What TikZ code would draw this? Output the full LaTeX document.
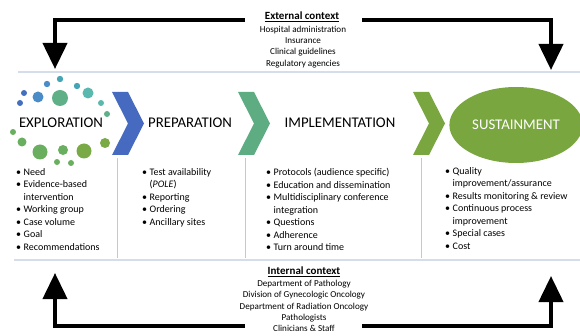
\documentclass[tikz,border=0pt]{standalone}
\usepackage{fontspec}
\setmainfont{Carlito}
\usetikzlibrary{positioning,arrows.meta,shapes.geometric}

\definecolor{chevblue}{RGB}{70,106,192}
\definecolor{chevteal}{RGB}{93,172,130}
\definecolor{chevolive}{RGB}{122,166,64}
\definecolor{sepline}{RGB}{214,221,234}
\definecolor{colline}{RGB}{200,200,200}
\definecolor{dotblue}{RGB}{68,110,190}
\definecolor{dotsky}{RGB}{74,140,200}
\definecolor{dotteal}{RGB}{70,165,180}
\definecolor{dotaqua}{RGB}{90,185,175}
\definecolor{dotsea}{RGB}{95,175,135}
\definecolor{dotgreen}{RGB}{105,175,95}
\definecolor{dotolive}{RGB}{122,170,70}

% bullet line and its wrapped continuation
\newcommand{\bitem}[1]{\makebox[7.5pt][l]{\textbullet}#1}
\newcommand{\bcont}[1]{\hspace*{7.5pt}#1}

\begin{document}
\begin{tikzpicture}[
            x=1pt, y=-1pt,
            stage/.style={font=\fontsize{14.8}{16}\selectfont},
            ctxhead/.style={font=\fontsize{11}{12}\selectfont\bfseries, inner sep=1pt},
            ctxlist/.style={align=center, font=\fontsize{9.1}{11.2}\selectfont, inner sep=0pt},
            bullets/.style={align=left, anchor=north west, inner sep=0pt, font=\fontsize{10}{12.5}\selectfont},
            ctxarrow/.style={line width=4pt, -{Triangle[width=24pt,length=26pt]}}
        ]
        \useasboundingbox (0,0) rectangle (580,336);

        % separators
        \draw[sepline, line width=1.2pt] (18,72) -- (580,72);
        \draw[sepline, line width=1.2pt] (14,260) -- (580,260);
        \foreach \lx in {117,245,421}
            \draw[colline, line width=0.8pt] (\lx,158) -- (\lx,258);

        % dots round exploration
        \foreach \dx/\dy/\dr/\dc in {60/79/3.2/dotteal, 47/84/3.2/dotsky, 77/86/3.2/dotteal,
                24/93/3/dotblue, 38/97/5.5/dotsky, 60/98/8/dotsea, 88/93/5.5/dotaqua,
                20/103/3/dotblue, 101/103/3/dotaqua, 107/114/3/dotsea, 13/132/3/dotgreen,
                22/142/4.5/dotgreen, 105/143/5/dotolive, 40/152/7.5/dotgreen,
                63/150/5/dotgreen, 84/151/7.5/dotolive, 57/162/3/dotgreen, 71/163/3/dotgreen}
            \fill[\dc] (\dx,\dy) circle (\dr pt);

        % chevrons
        \foreach \cx/\cc in {112/chevblue, 238/chevteal, 413/chevolive}
            \fill[\cc] (\cx,92) -- ++(16,0) -- ++(16,31.5) -- ++(-16,31.5) -- ++(-16,0) -- ++(16,-31.5) -- cycle;

        % stages
        \node[stage] (explo) at (61,123) {EXPLORATION};
        \node[stage] (prep) at (190,123) {PREPARATION};
        \node[stage] (impl) at (340,123) {IMPLEMENTATION};
        \node[stage, ellipse, fill=chevolive, text=white, minimum width=124pt, minimum height=76pt] (sus) at (516,125) {SUSTAINMENT};

        % bullet lists
        \node[bullets] (exploL) at (16,168) {\bitem{Need}\\\bitem{Evidence-based}\\\bcont{intervention}\\\bitem{Working group}\\\bitem{Case volume}\\\bitem{Goal}\\\bitem{Recommendations}};
        \node[bullets] (prepL) at (142,168) {\bitem{Test availability}\\\bcont{(\textit{POLE})}\\\bitem{Reporting}\\\bitem{Ordering}\\\bitem{Ancillary sites}};
        \node[bullets] (implL) at (266,168) {\bitem{Protocols (audience specific)}\\\bitem{Education and dissemination}\\\bitem{Multidisciplinary conference}\\\bcont{integration}\\\bitem{Questions}\\\bitem{Adherence}\\\bitem{Turn around time}};
        \node[bullets] (susL) at (445,167) {\bitem{Quality}\\\bcont{improvement/assurance}\\\bitem{Results monitoring \& review}\\\bitem{Continuous process}\\\bcont{improvement}\\\bitem{Special cases}\\\bitem{Cost}};

        % context
        \node[ctxhead] (extT) at (302,17) {\underline{External context}};
        \node[ctxlist] (extL) at (303,47) {Hospital administration\\Insurance\\Clinical guidelines\\Regulatory agencies};
        \node[ctxhead] (intT) at (304,272) {\underline{Internal context}};
        \node[ctxlist] (intL) at (304,306) {Department of Pathology\\Division of Gynecologic Oncology\\Department of Radiation Oncology\\Pathologists\\Clinicians \& Staff};

        \coordinate (extA) at (245,20);
        \coordinate (extB) at (362,20);
        \coordinate (expIn) at (55,69);
        \coordinate (susIn) at (551,70);
        \coordinate (intA) at (245,326);
        \coordinate (intB) at (362,326);
        \coordinate (expOut) at (55,273);
        \coordinate (susOut) at (551,276);

        \draw[ctxarrow] (extA) -| (expIn);
        \draw[ctxarrow] (extB) -| (susIn);
        \draw[ctxarrow] (intA) -| (expOut);
        \draw[ctxarrow] (intB) -| (susOut);
    \end{tikzpicture}
\end{document}
